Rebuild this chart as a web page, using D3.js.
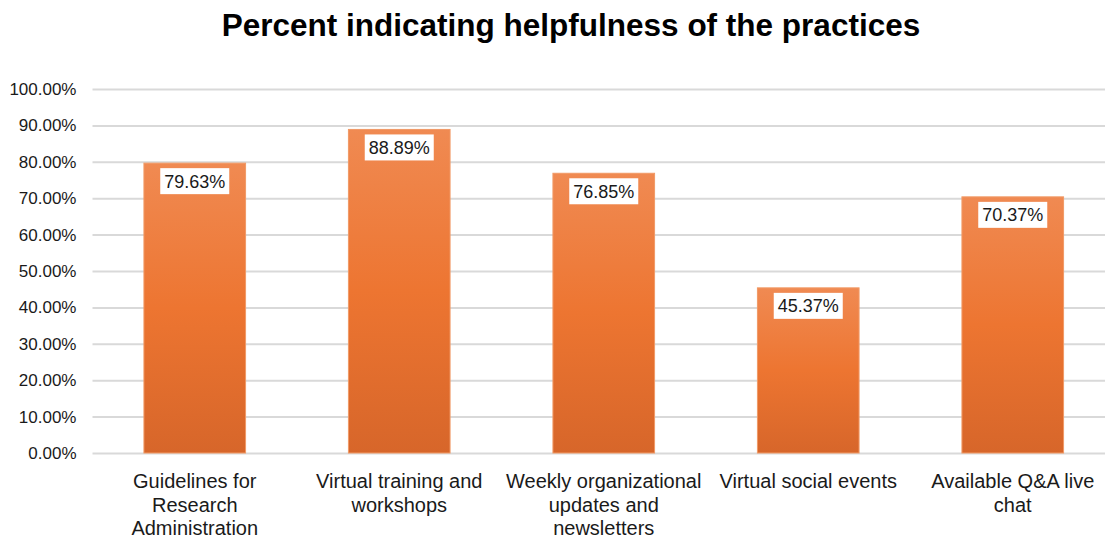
<!DOCTYPE html>
<html>
<head>
<meta charset="utf-8">
<script src="https://cdn.jsdelivr.net/npm/d3@7"></script>
<style>
  html, body { margin: 0; padding: 0; background: #fff; }
  svg { display: block; font-family: "Liberation Sans", Arial, Helvetica, sans-serif; }
</style>
</head>
<body>
<svg id="chart" width="1105" height="538"></svg>
<script>
// chart data
var categories = [
  "Guidelines for Research Administration",
  "Virtual training and workshops",
  "Weekly organizational updates and newsletters",
  "Virtual social events",
  "Available Q&A live chat"
];
// wrapped the way the original chart breaks them
var categoryLines = [
  ["Guidelines for", "Research", "Administration"],
  ["Virtual training and", "workshops"],
  ["Weekly organizational", "updates and", "newsletters"],
  ["Virtual social events"],
  ["Available Q&A live", "chat"]
];
var values = [0.7963, 0.8889, 0.7685, 0.4537, 0.7037];
var yTicks = [0, 0.1, 0.2, 0.3, 0.4, 0.5, 0.6, 0.7, 0.8, 0.9, 1.0];
var title = "Percent indicating helpfulness of the practices";

var svg = d3.select("#chart");

// plot area runs a bit past the right edge (the original is cropped)
var x = d3.scaleBand()
  .domain(categories)
  .range([92.5, 1115])
  .paddingInner(0.503)
  .paddingOuter(0.2515);

var y = d3.scaleLinear()
  .domain([0, 1])
  .range([453, 89]);

var fmt = function(v) { return (v * 100).toFixed(2) + "%"; };

// gradient like the office orange fill
var defs = svg.append("defs");
var grad = defs.append("linearGradient")
  .attr("id", "barGrad")
  .attr("x1", 0).attr("y1", 0).attr("x2", 0).attr("y2", 1);
grad.append("stop").attr("offset", "0%").attr("stop-color", "#f08a52");
grad.append("stop").attr("offset", "50%").attr("stop-color", "#ed7531");
grad.append("stop").attr("offset", "100%").attr("stop-color", "#d7662a");

// title
svg.append("text")
  .attr("x", 571)
  .attr("y", 36)
  .attr("text-anchor", "middle")
  .style("font-size", "31.5px")
  .style("font-weight", "bold")
  .attr("fill", "#000")
  .text(title);

// gridlines + y labels
var yAxis = d3.axisLeft(y)
  .tickValues(yTicks)
  .tickFormat(fmt)
  .tickSize(-(1105 - 92.5))
  .tickPadding(16);

var gy = svg.append("g")
  .attr("transform", "translate(92.5,0)")
  .call(yAxis);
gy.select(".domain").remove();
gy.selectAll(".tick line")
  .attr("stroke", "#d9d9d9")
  .attr("stroke-width", 2);
gy.selectAll(".tick text")
  .attr("fill", "#1a1a1a")
  .style("font-size", "17px");

// bars
svg.append("g").selectAll("rect")
  .data(values)
  .enter()
    .append("rect")
    .attr("x", function(d, i) { return x(categories[i]); })
    .attr("y", function(d) { return y(d); })
    .attr("width", x.bandwidth())
    .attr("height", function(d) { return y(0) - y(d); })
    .attr("fill", "url(#barGrad)")
    .attr("stroke", "#f19a66")
    .attr("stroke-width", 1);

// value labels in white boxes
var lab = svg.append("g").selectAll("g")
  .data(values)
  .enter()
    .append("g")
    .attr("transform", function(d, i) {
      return "translate(" + (x(categories[i]) + x.bandwidth() / 2) + "," + (y(d) + 18) + ")";
    });
lab.append("rect")
  .attr("x", -34.5)
  .attr("y", -13)
  .attr("width", 69)
  .attr("height", 26)
  .attr("fill", "#fff");
lab.append("text")
  .attr("text-anchor", "middle")
  .attr("dy", "0.36em")
  .style("font-size", "18px")
  .attr("fill", "#1a1a1a")
  .text(function(d) { return fmt(d); });

// category labels
var cat = svg.append("g").selectAll("text")
  .data(categoryLines)
  .enter()
    .append("text")
    .attr("text-anchor", "middle")
    .style("font-size", "20px")
    .attr("fill", "#1a1a1a")
    .attr("x", function(d, i) { return x(categories[i]) + x.bandwidth() / 2; })
    .attr("y", 488);
cat.selectAll("tspan")
  .data(function(d) { return d; })
  .enter()
    .append("tspan")
    .attr("x", function() { return d3.select(this.parentNode).attr("x"); })
    .attr("dy", function(d, j) { return j === 0 ? 0 : 23.5; })
    .text(function(d) { return d; });
</script>
</body>
</html>
